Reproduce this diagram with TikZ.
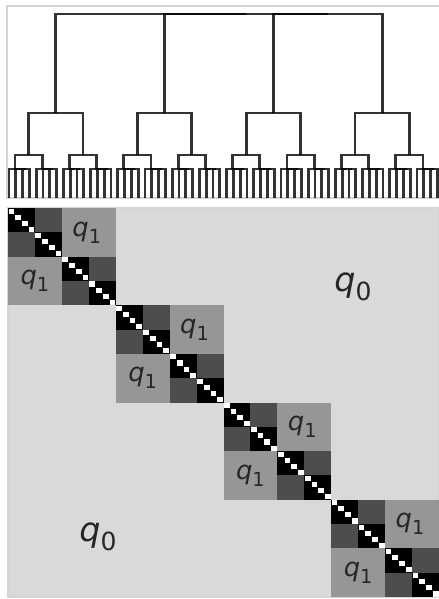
\documentclass[tikz,border=0pt]{standalone}
\usepackage{fontspec}
\usepackage{graphicx}
\setmainfont{DejaVu Sans}
\usetikzlibrary{calc}
\definecolor{HierFar}{HTML}{D9D9D9}
\definecolor{HierMid}{HTML}{969696}
\definecolor{HierNear}{HTML}{4D4D4D}
\definecolor{HierFrame}{HTML}{D4D4D4}
\newcommand\qlab[1]{\textit{q}\raisebox{-0.27em}{\scalebox{0.75}{#1}}}

\begin{document}
\begin{tikzpicture}[
  x=0.02cm,y=-0.02cm,
  declare function={lx(\i)=9+6.8*\i; mx(\i)=8+431/64*\i; my(\j)=208+389/64*\j;},
  treeline/.style={draw=black,draw opacity=0.8,line width=1.6pt},
  axisframe/.style={draw=HierFrame,line width=0.6pt},
  qone/.style={font=\fontsize{14.7}{17}\selectfont,text=black!85,inner sep=0pt},
  qzero/.style={font=\fontsize{19}{22}\selectfont,text=black!85,inner sep=0pt}
]
  \useasboundingbox (0,0) rectangle (439,599);

  % Dendrogram axes frame (open on the right).
  \draw[axisframe] (439,6) -- (7,6) -- (7,198) -- (439,198);

  % Groups of four leaves, merged as (0,(1,(2,3))).
  \foreach \g in {0,...,15}{
    \pgfmathsetmacro\b{4*\g}
    \draw[treeline] ({lx(\b+2)},198) |- ({lx(\b+3)},169) -- ({lx(\b+3)},198);
    \draw[treeline] ({lx(\b+1)},198) |- ({lx(\b+2.5)},169);
    \draw[treeline] ({lx(\b)},198) |- ({lx(\b+1.75)},169);
  }
  % Groups of eight and of sixteen.
  \foreach \h in {0,...,7}
    \draw[treeline] ({lx(8*\h+0.875)},169) |- ({lx(8*\h+4.875)},155)
      -- ({lx(8*\h+4.875)},169);
  \foreach \k in {0,...,3}
    \draw[treeline] ({lx(16*\k+2.875)},155) |- ({lx(16*\k+10.875)},113)
      -- ({lx(16*\k+10.875)},155);
  % Root merges.
  \draw[treeline] ({lx(38.875)},113) |- ({lx(54.875)},14) -- ({lx(54.875)},113);
  \draw[treeline] ({lx(22.875)},113) |- ({lx(46.875)},14);
  \draw[treeline] ({lx(6.875)},113) |- ({lx(34.875)},14);

  % Block matrix, coarse to fine.
  \fill[HierFar] ({mx(0)},{my(0)}) rectangle ({mx(64)},{my(64)});
  \draw[axisframe] ({mx(0)},{my(0)}) rectangle ({mx(64)},{my(64)});
  \foreach \k in {0,...,3}
    \fill[HierMid] ({mx(16*\k)},{my(16*\k)}) rectangle ({mx(16*\k+16)},{my(16*\k+16)});
  \foreach \k in {0,...,7}
    \fill[HierNear] ({mx(8*\k)},{my(8*\k)}) rectangle ({mx(8*\k+8)},{my(8*\k+8)});
  \foreach \k in {0,...,15}
    \fill[black] ({mx(4*\k)},{my(4*\k)}) rectangle ({mx(4*\k+4)},{my(4*\k+4)});
  \foreach \i in {0,...,63}
    \fill[white] ({mx(\i)+0.5},{my(\i)+0.5}) rectangle ({mx(\i+1)-0.5},{my(\i+1)-0.5});

  % Level labels.
  \foreach \k in {0,...,3}{
    \node[qone] (qone-\k-up) at ({mx(16*\k+12)-2},{my(16*\k+4)}) {\qlab{1}};
    \node[qone] (qone-\k-lo) at ({mx(16*\k+4)},{my(16*\k+12)}) {\qlab{1}};
  }
  \node[qzero] (qzero-up) at (353,287) {\qlab{0}};
  \node[qzero] (qzero-lo) at (98,537) {\qlab{0}};
\end{tikzpicture}
\end{document}
